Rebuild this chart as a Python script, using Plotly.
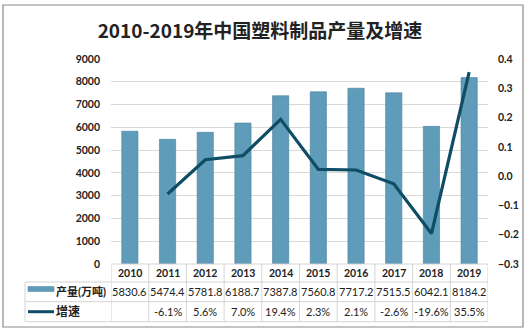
import plotly.graph_objects as go

years = ["2010", "2011", "2012", "2013", "2014", "2015", "2016", "2017", "2018", "2019"]
output = [5830.6, 5474.4, 5781.8, 6188.7, 7387.8, 7560.8, 7717.2, 7515.5, 6042.1, 8184.2]
growth = [None, -0.061, 0.056, 0.070, 0.194, 0.023, 0.021, -0.026, -0.196, 0.355]
growth_labels = ["", "-6.1%", "5.6%", "7.0%", "19.4%", "2.3%", "2.1%", "-2.6%", "-19.6%", "35.5%"]
series_names = ["产量(万吨)", "增速"]
title_text = "2010-2019年中国塑料制品产量及增速"

W, H = 530, 331
L, R, T, B = 111, 42, 59, 67
PW = W - L - R
PH = H - T - B

def px(x):
    return (x - L) / PW

def py(y):
    return (H - B - y) / PH

FONT = "Lato, Noto Sans CJK SC, sans-serif"
GRID = "#d9d9d9"
TBL = "#d4d4d4"
BAR = "#5e9cba"
LINE = "#0f4d64"
TXT = "#222222"

idx = list(range(len(years)))

fig = go.Figure()
fig.add_trace(go.Bar(
    x=idx, y=output, name=series_names[0], width=0.43,
    marker=dict(color=BAR, line=dict(color="#4b8099", width=0.6)),
    yaxis="y",
))
fig.add_trace(go.Scatter(
    x=idx, y=growth, name=series_names[1], mode="lines",
    line=dict(color=LINE, width=3.2), yaxis="y2", connectgaps=False,
))

shapes = []
annotations = []

# outer border
shapes.append(dict(type="rect", xref="paper", yref="paper",
                   x0=px(3), x1=px(523), y0=py(327), y1=py(5),
                   line=dict(color="#8a8a8a", width=1.2), layer="below"))

# table geometry
row_y = [264, 282, 301.7, 321.7]
xl = 25
shapes.append(dict(type="line", xref="paper", yref="paper", x0=0, x1=1,
                   y0=py(row_y[0]), y1=py(row_y[0]), line=dict(color=TBL, width=1)))
for yy in row_y[1:]:
    shapes.append(dict(type="line", xref="paper", yref="paper", x0=px(xl), x1=1,
                       y0=py(yy), y1=py(yy), line=dict(color=TBL, width=1)))
shapes.append(dict(type="line", xref="paper", yref="paper", x0=px(xl), x1=px(xl),
                   y0=py(row_y[1]), y1=py(row_y[3]), line=dict(color=TBL, width=1)))
for k in range(len(years) + 1):
    shapes.append(dict(type="line", xref="x", yref="paper", x0=k - 0.5, x1=k - 0.5,
                       y0=py(row_y[0]), y1=py(row_y[3]), line=dict(color=TBL, width=1)))

# legend keys
shapes.append(dict(type="rect", xref="paper", yref="paper",
                   x0=px(28), x1=px(54), y0=py(291.5), y1=py(286.5),
                   fillcolor=BAR, line=dict(color="#4b8099", width=0.5)))
shapes.append(dict(type="line", xref="paper", yref="paper",
                   x0=px(28), x1=px(54), y0=py(311.7), y1=py(311.7),
                   line=dict(color=LINE, width=3)))

# row labels
annotations.append(dict(xref="paper", yref="paper", x=px(54), y=py(291.8),
                        text="<b>" + series_names[0] + "</b>", showarrow=False,
                        xanchor="left", yanchor="middle",
                        font=dict(family=FONT, size=11, color=TXT)))
annotations.append(dict(xref="paper", yref="paper", x=px(54), y=py(311.7),
                        text="<b>" + series_names[1] + "</b>", showarrow=False,
                        xanchor="left", yanchor="middle",
                        font=dict(family=FONT, size=12, color=TXT)))

for i, yr in enumerate(years):
    annotations.append(dict(xref="x", yref="paper", x=i, y=py(273),
                            text="<b>" + yr + "</b>", showarrow=False,
                            xanchor="center", yanchor="middle",
                            font=dict(family=FONT, size=10.5, color=TXT)))
    annotations.append(dict(xref="x", yref="paper", x=i, y=py(291.8),
                            text=f"{output[i]:.1f}", showarrow=False,
                            xanchor="center", yanchor="middle",
                            font=dict(family=FONT, size=11, color=TXT)))
    annotations.append(dict(xref="x", yref="paper", x=i, y=py(311.7),
                            text=growth_labels[i], showarrow=False,
                            xanchor="center", yanchor="middle",
                            font=dict(family=FONT, size=11, color=TXT)))

fig.update_layout(
    width=W, height=H,
    margin=dict(l=L, r=R, t=T, b=B, pad=0),
    paper_bgcolor="white", plot_bgcolor="white",
    showlegend=False,
    title=dict(text="<b>" + title_text + "</b>", x=260 / W, xanchor="center",
               y=1 - 31 / H, yanchor="middle", yref="container", xref="container",
               font=dict(family="Noto Sans CJK SC, sans-serif", size=19, color=TXT)),
    xaxis=dict(range=[-0.5, len(years) - 0.5], showticklabels=False, showgrid=False,
               zeroline=False, showline=False, ticks=""),
    yaxis=dict(range=[0, 9000], dtick=1000, showgrid=True, gridcolor=GRID, gridwidth=1,
               zeroline=False, showline=False, ticks="",
               tickfont=dict(family=FONT, size=10.5, color=TXT),
               ticklabelstandoff=10, tickprefix="<b>", ticksuffix="</b>"),
    yaxis2=dict(range=[-0.3, 0.4], dtick=0.1, overlaying="y", side="right",
                showgrid=False, zeroline=False, showline=False, ticks="",
                tickformat=".1f", tickfont=dict(family=FONT, size=10.5, color=TXT),
                ticklabelstandoff=9, tickprefix="<b>", ticksuffix="</b>"),
    shapes=shapes,
    annotations=annotations,
    bargap=0.5,
)

fig.write_html("out.html")
